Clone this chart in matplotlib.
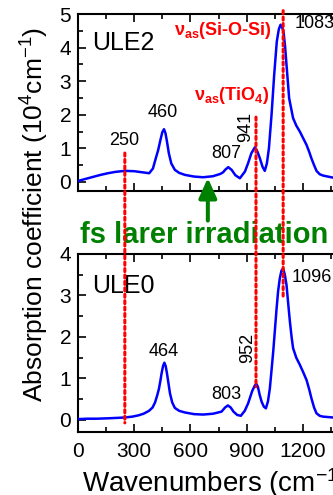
import numpy as np
import matplotlib.pyplot as plt
from matplotlib.ticker import MultipleLocator
from matplotlib.patches import ConnectionPatch

plt.rcParams['font.family'] = ['Liberation Sans', 'DejaVu Sans']
plt.rcParams['mathtext.fontset'] = 'custom'
plt.rcParams['mathtext.rm'] = 'Liberation Sans'
plt.rcParams['mathtext.bf'] = 'Liberation Sans:bold'
plt.rcParams['mathtext.default'] = 'regular'

# spectra (wavenumber, absorption in 1e4 cm^-1)
ule2_x = [0, 40, 80, 120, 160, 200, 250, 300, 340, 380, 400, 415, 428, 440, 450,
          459, 467, 475, 485, 498, 517, 540, 571, 620, 668, 720, 760, 775, 785, 802,
          820, 840, 864, 891, 908, 925, 944, 958, 971, 985, 997, 1008, 1019, 1033,
          1047, 1061, 1072, 1081, 1090, 1097, 1105, 1113, 1127, 1148, 1165, 1184,
          1202, 1220, 1235, 1246, 1260, 1273, 1290, 1308, 1360, 1420, 1500]
ule2_y = [0.03, 0.09, 0.15, 0.21, 0.26, 0.30, 0.33, 0.32, 0.29, 0.26, 0.40, 0.70,
          0.95, 1.25, 1.48, 1.57, 1.45, 1.20, 0.85, 0.55, 0.36, 0.27, 0.21, 0.16,
          0.14, 0.17, 0.24, 0.29, 0.36, 0.44, 0.36, 0.20, 0.11, 0.31, 0.56, 0.85,
          1.03, 0.90, 0.70, 0.45, 0.33, 0.55, 1.00, 2.00, 3.18, 4.18, 4.55, 4.68,
          4.60, 4.47, 4.05, 3.48, 2.49, 1.90, 1.68, 1.50, 1.30, 1.10, 0.88, 0.70,
          0.50, 0.33, 0.23, 0.19, 0.13, 0.12, 0.11]

ule0_x = [0, 50, 100, 162, 210, 251, 290, 322, 350, 379, 398, 411, 422, 432, 440,
          446, 454, 461, 468, 475, 483, 491, 503, 517, 540, 571, 620, 668, 720, 766,
          785, 800, 815, 830, 850, 869, 890, 908, 930, 945, 953, 960, 970, 980, 992,
          1003, 1014, 1024, 1033, 1042, 1051, 1060, 1068, 1077, 1086, 1095, 1104,
          1113, 1122, 1131, 1140, 1148, 1165, 1184, 1202, 1220, 1235, 1246, 1260,
          1273, 1290, 1308, 1360, 1420, 1500]
ule0_y = [0.02, 0.03, 0.03, 0.04, 0.05, 0.06, 0.08, 0.11, 0.15, 0.22, 0.30, 0.42,
          0.58, 0.75, 0.95, 1.12, 1.30, 1.38, 1.30, 1.12, 0.88, 0.64, 0.42, 0.29,
          0.22, 0.18, 0.14, 0.13, 0.15, 0.20, 0.30, 0.35, 0.30, 0.20, 0.12, 0.10,
          0.22, 0.40, 0.70, 0.84, 0.86, 0.80, 0.60, 0.44, 0.32, 0.28, 0.45, 0.76,
          1.20, 1.65, 2.17, 2.69, 3.10, 3.41, 3.60, 3.65, 3.50, 3.25, 2.80, 2.37,
          2.00, 1.73, 1.50, 1.33, 1.15, 0.96, 0.72, 0.52, 0.30, 0.16, 0.10, 0.08,
          0.06, 0.06, 0.05]

# peak labels: (text, x, y, rotation)
ule2_peaks = [('250', 248, 1.10, 0), ('460', 455, 1.93, 0), ('807', 789, 0.71, 0),
              ('941', 896, 1.64, 90)]
ule0_peaks = [('464', 456, 1.54, 0), ('803', 789, 0.51, 0), ('952', 904, 1.73, 90)]

# dotted guide lines spanning both panels
vline_x = [250, 950, 1095]
vline_top = [0.86, 1.93, 5.1]
vline_bottom = [-0.07, 0.80, 2.94]

fig = plt.figure(figsize=(3.33, 4.95), dpi=100)
ax1 = fig.add_axes([0.2342, 0.6141, 0.844, 0.3576])
ax2 = fig.add_axes([0.2342, 0.1273, 0.844, 0.3596])

ax1.plot(ule2_x, ule2_y, color='#0000ff', lw=1.8, zorder=3)
ax2.plot(ule0_x, ule0_y, color='#0000ff', lw=1.8, zorder=3)

ax1.set_ylim(-0.27, 5)
ax2.set_ylim(-0.29, 4)
for ax in (ax1, ax2):
    ax.set_xlim(0, 1500)
    ax.xaxis.set_major_locator(MultipleLocator(300))
    ax.xaxis.set_minor_locator(MultipleLocator(150))
    ax.yaxis.set_major_locator(MultipleLocator(1))
    ax.yaxis.set_minor_locator(MultipleLocator(0.5))
    ax.tick_params(which='both', direction='in', top=True, right=True,
                   labelsize=15, width=1.2)
    ax.tick_params(which='major', length=6, pad=5)
    ax.tick_params(which='minor', length=3.5)
    for s in ax.spines.values():
        s.set_linewidth(1.5)
ax1.tick_params(labelbottom=False)
ax2.tick_params(axis='x', pad=7)

ax1.text(75, 3.93, 'ULE2', fontsize=18)
ax2.text(75, 3.06, 'ULE0', fontsize=18)

for t, x, y, r in ule2_peaks:
    ax1.text(x, y, t, fontsize=13, ha='center',
             va='baseline' if r == 0 else 'center', rotation=r)
for t, x, y, r in ule0_peaks:
    ax2.text(x, y, t, fontsize=13, ha='center',
             va='baseline' if r == 0 else 'center', rotation=r)
ax1.text(1157, 4.58, '1083', fontsize=13, clip_on=False)
ax2.text(1141, 3.33, '1096', fontsize=13, clip_on=False)

ax1.text(771, 4.37, r'ν$_{as}$(Si-O-Si)', fontsize=13, color='red',
         fontweight='bold', ha='center')
ax1.text(819, 2.44, r'ν$_{as}$(TiO$_4$)', fontsize=13, color='red',
         fontweight='bold', ha='center')

for x, ya, yb in zip(vline_x, vline_top, vline_bottom):
    con = ConnectionPatch(xyA=(x, ya), coordsA=ax1.transData,
                          xyB=(x, yb), coordsB=ax2.transData,
                          color='red', lw=2.2, ls=(0, (1, 1.1)), zorder=4)
    fig.add_artist(con)

ax1.annotate('', xy=(693, 0.12), xytext=(693, -1.15),
             arrowprops=dict(arrowstyle='-|>,head_length=0.6,head_width=0.27',
                             lw=2.9, color='#008000', mutation_scale=20,
                             shrinkA=0, shrinkB=0),
             annotation_clip=False)

fig.text(80 / 333, 1 - 243 / 495, 'fs larer irradiation', fontsize=21,
         fontweight='bold', color='#008000', va='baseline')
fig.text(0.104, 0.566, 'Absorption coefficient (10$^4$cm$^{-1}$)', fontsize=19,
         rotation=90, ha='center', va='center')
fig.text(82 / 333, 0.007, 'Wavenumbers (cm$^{-1}$)', fontsize=20, va='baseline')

fig.savefig('out.png', dpi=100)
